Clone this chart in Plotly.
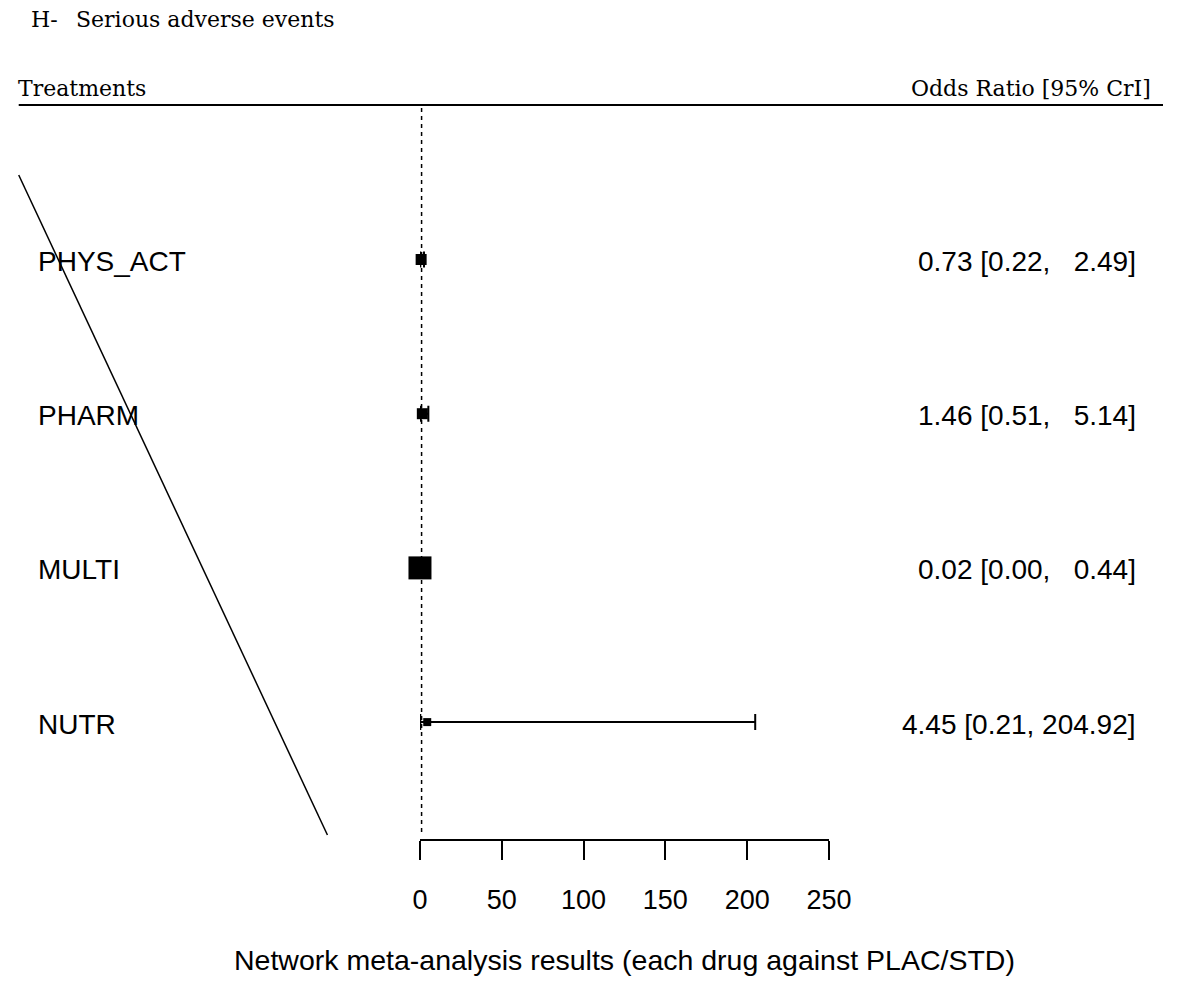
import plotly.graph_objects as go

# Network meta-analysis: serious adverse events, each treatment vs PLAC/STD
treatments = ["PHYS_ACT", "PHARM", "MULTI", "NUTR"]
odds_ratio = [0.73, 1.46, 0.02, 4.45]
ci_low = [0.22, 0.51, 0.00, 0.21]
ci_high = [2.49, 5.14, 0.44, 204.92]
x_ticks = [0, 50, 100, 150, 200, 250]

# square size for each estimate (weight of the evidence)
box_size = [11, 11, 23, 8]

W, H = 1186, 981
SANS = "Liberation Sans, Arial, sans-serif"
SERIF = "DejaVu Serif, serif"

# pixel layout of the forest panel
AX_LEFT, AX_RIGHT = 423, 843      # x = 0 and x = 250
AX_BOTTOM = 839                   # horizontal axis line
ROW_TOP, ROW_GAP = 259.5, 154.2   # first row centre and spacing


def px(x):
    return x / W


def py(y):
    return 1 - y / H


n = len(treatments)
rows = [n - i for i in range(n)]  # top row first

y_top_val = n + ROW_TOP / ROW_GAP
y_bot_val = n - (AX_BOTTOM - ROW_TOP) / ROW_GAP

fig = go.Figure()

fig.add_trace(go.Scatter(
    x=odds_ratio,
    y=rows,
    mode="markers",
    cliponaxis=False,
    marker=dict(symbol="square", size=box_size, color="#000000", opacity=1,
                line=dict(width=0)),
    error_x=dict(
        type="data",
        symmetric=False,
        array=[h - e for h, e in zip(ci_high, odds_ratio)],
        arrayminus=[e - l for e, l in zip(odds_ratio, ci_low)],
        color="#000000",
        thickness=2,
        width=8,
    ),
    hoverinfo="skip",
    showlegend=False,
))

annotations = []


def add_text(text, x, y, size, family, xanchor="left", yref="paper", yshift=0):
    annotations.append(dict(
        text=text, x=px(x), y=y if yref == "y" else py(y),
        xref="paper", yref=yref, xanchor=xanchor, yanchor="middle",
        yshift=yshift, showarrow=False,
        font=dict(family=family, size=size, color="black"),
    ))


# header texts
add_text("H-", 22, 19, 22, SERIF)
add_text("Serious adverse events", 68, 19, 22, SERIF)
add_text("Treatments", 8, 88, 22, SERIF)
add_text("Odds Ratio [95% CrI]", 1176, 88, 22, SERIF, xanchor="right")

# row labels and estimates
for name, est, lo, hi, v in zip(treatments, odds_ratio, ci_low, ci_high, rows):
    add_text(name, 29, v, 28, SANS, yref="y", yshift=-2)
    label = f"{est:.2f} [{lo:.2f}, {hi:>6.2f}]".replace(" ", "\u00a0")
    add_text(label, 1160, v, 28, SANS, xanchor="right", yref="y", yshift=-2)

# axis title, centred under the panel
add_text("Network meta-analysis results (each drug against PLAC/STD)",
         (AX_LEFT + AX_RIGHT) / 2, 960, 28.5, SANS, xanchor="center")

shapes = [
    # rule under the header
    dict(type="line", xref="paper", yref="paper", x0=px(11), x1=px(1186),
         y0=py(105), y1=py(105), line=dict(color="black", width=2)),
    # diagonal stroke on the left
    dict(type="line", xref="paper", yref="paper", x0=px(11), x1=px(328),
         y0=py(175), y1=py(835), line=dict(color="black", width=1.5)),
    # line of no effect (OR = 1)
    dict(type="line", xref="x", yref="paper", x0=1, x1=1,
         y0=py(108), y1=py(833), line=dict(color="black", width=1.5, dash="4px,4px")),
]

fig.update_layout(
    width=W,
    height=H,
    autosize=False,
    margin=dict(l=0, r=0, t=0, b=0),
    paper_bgcolor="white",
    plot_bgcolor="white",
    xaxis=dict(
        domain=[px(AX_LEFT), px(AX_RIGHT)],
        range=[x_ticks[0], x_ticks[-1]],
        tickvals=x_ticks,
        ticktext=[str(t) for t in x_ticks],
        ticks="outside",
        ticklen=19,
        tickwidth=2,
        tickcolor="black",
        showline=True,
        linewidth=2,
        linecolor="black",
        showgrid=False,
        zeroline=False,
        tickfont=dict(family=SANS, size=27, color="black"),
        ticklabelstandoff=17,
    ),
    yaxis=dict(
        domain=[1 - AX_BOTTOM / H, 1],
        range=[y_bot_val, y_top_val],
        visible=False,
        showgrid=False,
        zeroline=False,
    ),
    annotations=annotations,
    shapes=shapes,
)

fig.write_html(
    "out.html",
    config={"responsive": False, "displayModeBar": False},
    default_width=f"{W}px",
    default_height=f"{H}px",
    post_script="document.body.style.margin='0';document.body.style.overflow='hidden';",
)
